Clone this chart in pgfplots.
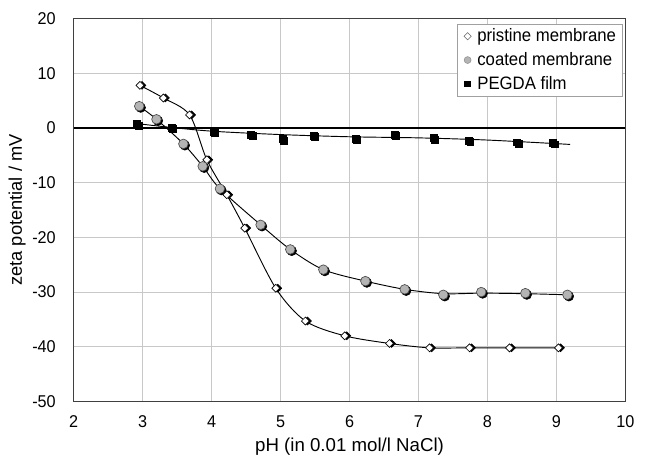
\documentclass[border=0pt]{standalone}
\usepackage{fontspec}
\setmainfont{Liberation Sans}
\newfontfamily\narrowfont{Liberation Sans}[FakeStretch=0.95]
\newfontfamily\legfont{Liberation Sans}[FakeStretch=0.93]
\usepackage{pgfplots}
\pgfplotsset{compat=1.18}
\definecolor{gridgray}{HTML}{C8C8C8}
\definecolor{markgray}{HTML}{B4B4B4}
\definecolor{frame}{HTML}{404040}
\begin{document}
\begin{tikzpicture}
\begin{axis}[
  scale only axis,
  width=413.6pt, height=287pt,
  xmin=2, xmax=10, ymin=-50, ymax=20,
  xtick={2,...,10}, ytick={-50,-40,...,20},
  grid=major,
  grid style={gridgray, line width=0.8pt},
  axis line style={frame, line width=0.8pt},
  major tick length=0pt,
  /pgf/number format/assume math mode=true,
  tick label style={font=\narrowfont\fontsize{12.8}{15}\selectfont},
  yticklabel style={xshift=-10pt},
  xticklabel style={yshift=-7pt},
  xlabel={pH (in 0.01 mol/l NaCl)},
  ylabel={zeta potential / mV},
  xlabel style={font=\fontsize{14}{15}\selectfont, yshift=-1pt},
  ylabel style={font=\fontsize{13.7}{15}\selectfont, yshift=-2pt},
  extra y ticks={0}, extra y tick labels={},
  extra y tick style={grid style={black, line width=0.9pt}},
  legend image code/.code={\path (-5pt,0pt) (5pt,0pt); \draw[#1] plot coordinates {(0pt,0pt)};},
  legend style={at={(1,1)}, anchor=north east, xshift=-2.2pt, yshift=-3.7pt,
    draw=gridgray!80!black, line width=0.6pt, font=\legfont\fontsize{13.5}{15}\selectfont,
    row sep=2.6pt, inner xsep=2.5pt, inner ysep=1.5pt, cells={anchor=west}},
  legend cell align=left,
]
% lines
\addplot[black, line width=0.7pt, smooth, tension=0.5, forget plot] coordinates {
(2.96,7.8)(3.30,5.5)(3.68,2.4)(3.93,-5.8)(4.22,-12.2)(4.48,-18.3)(4.93,-29.3)(5.36,-35.3)(5.93,-38.0)(6.58,-39.4)(7.16,-40.2)(7.74,-40.2)(8.32,-40.2)(9.03,-40.2)};
\addplot[black, line width=0.7pt, smooth, tension=0.5, forget plot] coordinates {
(2.95,4.0)(3.20,1.6)(3.59,-2.9)(3.87,-7.0)(4.12,-11.1)(4.71,-17.7)(5.14,-22.2)(5.62,-25.9)(6.23,-28.0)(6.80,-29.5)(7.36,-30.3)(7.91,-30.2)(8.55,-30.3)(9.16,-30.5)};
\addplot[black, line width=0.7pt, smooth, tension=0.5, forget plot] coordinates {
(2.92,0.8)(3.42,0.1)(4.03,-0.6)(5.0,-1.2)(6.0,-1.6)(7.0,-1.8)(8.0,-2.2)(9.2,-3.0)};
% shadows
\addplot[only marks, mark=square*, mark size=2.1pt, black, mark options={rotate=45, xshift=1.1pt, yshift=-1.1pt}, forget plot] coordinates {
(2.96,7.8)(3.30,5.5)(3.68,2.4)(3.93,-5.8)(4.22,-12.2)(4.48,-18.3)(4.93,-29.3)(5.36,-35.3)(5.93,-38.0)(6.58,-39.4)(7.16,-40.2)(7.74,-40.2)(8.32,-40.2)(9.03,-40.2)};
\addplot[only marks, mark=*, mark size=3.6pt, black, mark options={xshift=1.1pt, yshift=-1.1pt}, forget plot] coordinates {
(2.95,4.0)(3.20,1.6)(3.59,-2.9)(3.87,-7.0)(4.12,-11.1)(4.71,-17.7)(5.14,-22.2)(5.62,-25.9)(6.23,-28.0)(6.80,-29.5)(7.36,-30.5)(7.91,-30.0)(8.55,-30.2)(9.16,-30.5)};
\addplot[only marks, mark=square*, mark size=2.6pt, black, mark options={xshift=1.1pt, yshift=-1.1pt}, forget plot] coordinates {
(2.92,0.7)(3.42,0.1)(4.03,-0.6)(4.57,-1.2)(5.03,-2.0)(5.48,-1.4)(6.09,-1.9)(6.65,-1.2)(7.22,-1.8)(7.73,-2.3)(8.43,-2.6)(8.95,-2.7)};
% marks
\addplot[only marks, mark=square*, mark size=2.1pt, mark options={rotate=45, draw=black, fill=white, line width=0.5pt}, forget plot] coordinates {
(2.96,7.8)(3.30,5.5)(3.68,2.4)(3.93,-5.8)(4.22,-12.2)(4.48,-18.3)(4.93,-29.3)(5.36,-35.3)(5.93,-38.0)(6.58,-39.4)(7.16,-40.2)(7.74,-40.2)(8.32,-40.2)(9.03,-40.2)};
\addplot[only marks, mark=*, mark size=3.6pt, mark options={draw=black!70, fill=markgray, line width=0.5pt}, forget plot] coordinates {
(2.95,4.0)(3.20,1.6)(3.59,-2.9)(3.87,-7.0)(4.12,-11.1)(4.71,-17.7)(5.14,-22.2)(5.62,-25.9)(6.23,-28.0)(6.80,-29.5)(7.36,-30.5)(7.91,-30.0)(8.55,-30.2)(9.16,-30.5)};
\addplot[only marks, mark=square*, mark size=2.6pt, mark options={draw=black, fill=black}, forget plot] coordinates {
(2.92,0.7)(3.42,0.1)(4.03,-0.6)(4.57,-1.2)(5.03,-2.0)(5.48,-1.4)(6.09,-1.9)(6.65,-1.2)(7.22,-1.8)(7.73,-2.3)(8.43,-2.6)(8.95,-2.7)};
% legend
\addlegendimage{only marks, mark=square*, mark size=1.9pt, mark options={rotate=45, draw=black!60, fill=white, line width=0.4pt}}
\addlegendentry{pristine membrane}
\addlegendimage{only marks, mark=*, mark size=2.6pt, mark options={draw=markgray!80!black, fill=markgray, line width=0.4pt}}
\addlegendentry{coated membrane}
\addlegendimage{only marks, mark=square*, mark size=2.1pt, mark options={draw=black, fill=black}}
\addlegendentry{PEGDA film}
\end{axis}
\path ([xshift=-55.3pt,yshift=-39.5pt]current axis.south west) rectangle ([xshift=15.5pt,yshift=14pt]current axis.north east);
\end{tikzpicture}
\end{document}
